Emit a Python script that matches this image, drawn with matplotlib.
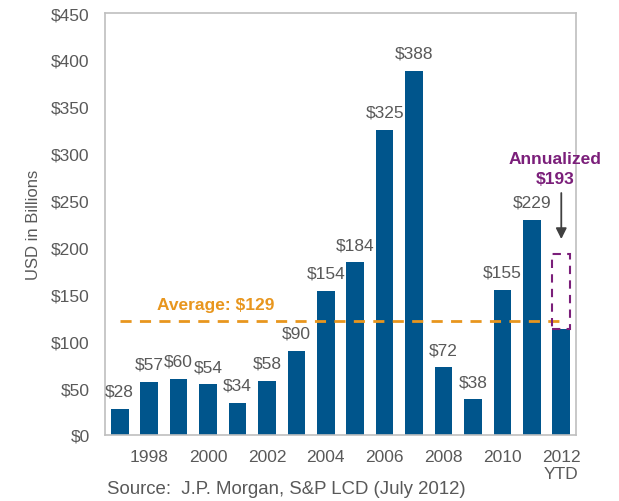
import matplotlib.pyplot as plt
import numpy as np

plt.rcParams['font.family'] = ['Liberation Sans', 'DejaVu Sans']

# data
years = ['1997', '1998', '1999', '2000', '2001', '2002', '2003', '2004',
         '2005', '2006', '2007', '2008', '2009', '2010', '2011', '2012\nYTD']
values = [28, 57, 60, 54, 34, 58, 90, 154, 184, 325, 388, 72, 38, 155, 229, 113]
labels = ['$28', '$57', '$60', '$54', '$34', '$58', '$90', '$154', '$184',
          '$325', '$388', '$72', '$38', '$155', '$229', '']
average_level = 122
annualized = 193

bar_color = '#00558C'
text_gray = '#595959'
orange = '#E8961E'
purple = '#7B1F7A'

fig = plt.figure(figsize=(6.19, 5.02), dpi=100)
ax = fig.add_axes([105 / 619, 66 / 502, 471 / 619, 422 / 502])

x = np.arange(len(years))
ax.bar(x, values, width=0.6, color=bar_color, zorder=2)

for xi, v, lab in zip(x, values, labels):
    if lab:
        ax.text(xi, v + 11, lab, ha='center', va='bottom', fontsize=12.5,
                color=text_gray)

# average line
ax.plot([0, 15.15], [average_level, average_level], ls=(0, (4, 3)),
        color=orange, lw=2, zorder=3)
ax.text(3.25, average_level + 9, 'Average: $129', ha='center', va='bottom',
        fontsize=12.5, color=orange, fontweight='bold')

# annualized box for 2012
last = x[-1]
ax.add_patch(plt.Rectangle((last - 0.3, values[-1]), 0.6,
                           annualized - values[-1], fill=False,
                           ls=(0, (4, 3)), ec=purple, lw=1.5, zorder=3))
ax.annotate('', xy=(last, 206), xytext=(last, 261),
            arrowprops=dict(arrowstyle='-|>', color='#404040', lw=1.3,
                            mutation_scale=16))
ax.text(last - 0.22, 266, 'Annualized\n$193', ha='center', va='bottom',
        fontsize=12.5, color=purple, fontweight='bold', linespacing=1.35,
        clip_on=False)

ax.set_xlim(-0.5, 15.5)
ax.set_ylim(0, 450)
ax.set_yticks(np.arange(0, 451, 50))
ax.set_yticklabels(['$%d' % v for v in range(0, 451, 50)])
ax.set_xticks(x[1::2])
ax.set_xticklabels(years[1::2])
ax.tick_params(length=0, labelsize=12.5, colors=text_gray)
ax.tick_params(axis='x', pad=10)
ax.tick_params(axis='y', pad=11)
for s in ax.spines.values():
    s.set_color('#BFBFBF')
    s.set_linewidth(1.2)
ax.set_ylabel('USD in Billions', fontsize=12, color=text_gray, labelpad=7)

fig.text(107 / 619, 1 - 490 / 502, 'Source:  J.P. Morgan, S&P LCD (July 2012)',
         fontsize=13.4, color=text_gray, va='center')

fig.savefig('out.png', dpi=100)
